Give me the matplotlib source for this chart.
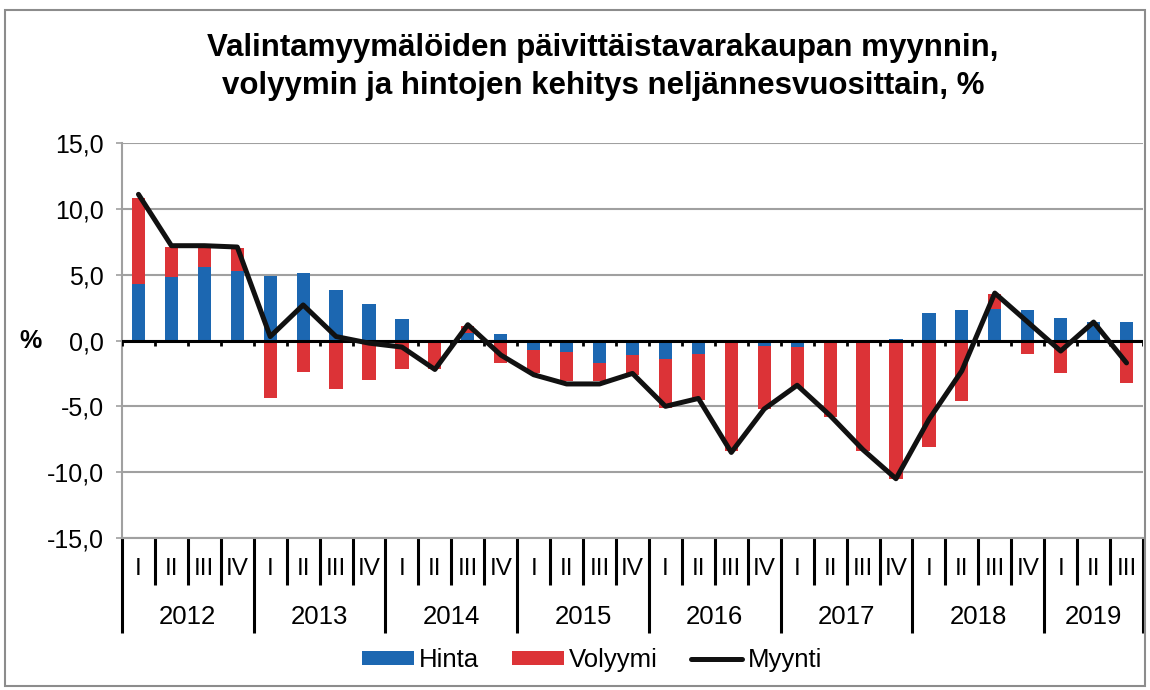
import numpy as np
from matplotlib import pyplot as plt
from matplotlib.patches import Rectangle

plt.rcParams['font.family'] = ['Liberation Sans', 'DejaVu Sans']

# quarterly data 2012 I - 2019 III, %
years = ['2012', '2013', '2014', '2015', '2016', '2017', '2018', '2019']
quarters = ['I', 'II', 'III', 'IV']
hinta = [4.3, 4.8, 5.6, 5.3, 4.9, 5.1, 3.8, 2.8, 1.6, 0.0, 0.6, 0.5,
         -0.7, -0.9, -1.7, -1.1, -1.4, -1.0, 0.0, -0.4, -0.5, -0.2, 0.0, 0.1,
         2.1, 2.3, 2.4, 2.3, 1.7, 1.4, 1.4]
volyymi = [6.5, 2.3, 1.4, 1.7, -4.4, -2.4, -3.7, -3.0, -2.2, -2.2, 0.5, -1.7,
           -1.8, -2.2, -1.4, -1.5, -3.7, -3.5, -8.4, -4.8, -3.1, -5.6, -8.4, -10.5,
           -8.1, -4.6, 1.1, -1.0, -2.5, -0.2, -3.2]
myynti = [11.1, 7.2, 7.2, 7.1, 0.3, 2.7, 0.3, -0.2, -0.5, -2.2, 1.2, -1.1,
          -2.6, -3.3, -3.3, -2.5, -5.0, -4.4, -8.5, -5.2, -3.4, -5.7, -8.3, -10.5,
          -6.0, -2.3, 3.6, 1.4, -0.8, 1.4, -1.7]
yticks = [-15, -10, -5, 0, 5, 10, 15]

blue = '#1c67b1'
red = '#dc3337'
grey = '#a0a0a0'

n = len(hinta)
x = np.arange(n)
h = np.array(hinta)
v = np.array(volyymi)
# excel style stacking: same sign goes on top of hinta, opposite sign starts from 0
vbottom = np.where(np.sign(h) == np.sign(v), h, 0.0)

W, H = 1150, 690
fig = plt.figure(figsize=(W / 100, H / 100), dpi=100)
L, R, T, B = 122, 1143, 143, 538
ax = fig.add_axes([L / W, 1 - B / H, (R - L) / W, (B - T) / H])
axh = B - T  # axes height in px

b1 = ax.bar(x, h, width=0.4, color=blue, zorder=2, label='Hinta')
b2 = ax.bar(x, v, width=0.4, bottom=vbottom, color=red, zorder=2, label='Volyymi')
ax.axhline(0, color='black', lw=2.2, zorder=3)
ax.vlines(np.arange(n + 1) - 0.5, -0.4, 0, color='black', lw=2, zorder=3)
ln, = ax.plot(x, myynti, color='#111111', lw=3.6, zorder=4, solid_joinstyle='round',
              solid_capstyle='round', label='Myynti')

ax.set_xlim(-0.5, n - 0.5)
ax.set_ylim(-15, 15)
ax.set_yticks(yticks)
ax.set_yticklabels([('%.1f' % t).replace('.', ',') for t in yticks])
ax.yaxis.grid(True, color=grey, lw=1.5)
ax.set_axisbelow(True)
ax.tick_params(axis='y', direction='out', length=4, width=1.2, color=grey,
               labelsize=18, pad=9)
ax.set_xticks([])
for s in ['top', 'right']:
    ax.spines[s].set_visible(False)
ax.spines['left'].set_color(grey)
ax.spines['left'].set_linewidth(1.5)
ax.spines['bottom'].set_color(grey)
ax.spines['bottom'].set_linewidth(1.5)

# category axis: quarters and years
trans = ax.get_xaxis_transform()
for b in np.arange(n + 1) - 0.5:
    yearline = (b + 0.5) % 4 == 0 or b == n - 0.5
    depth = 95 if yearline else 47
    ax.plot([b, b], [0, -depth / axh], transform=trans, color='black', lw=2.2,
            clip_on=False, solid_capstyle='butt')
for i in range(n):
    ax.text(i, -31 / axh, quarters[i % 4], transform=trans, ha='center', va='center',
            fontsize=17.5)
for k, yr in enumerate(years):
    q = x[4 * k:4 * k + 4]
    ax.text(q.mean(), -79 / axh, yr, transform=trans, ha='center', va='center',
            fontsize=18.5)

fig.text(30 / W, 1 - 341 / H, '%', ha='center', va='center', fontsize=18,
         fontweight='bold')

fig.text(603 / W, 1 - 67 / H,
         'Valintamyymälöiden päivittäistavarakaupan myynnin,\n'
         'volyymin ja hintojen kehitys neljännesvuosittain, %',
         ha='center', va='center', fontsize=22.5, fontweight='bold', linespacing=1.38)

fig.legend([b1, b2, ln], ['Hinta', 'Volyymi', 'Myynti'], loc='center',
           bbox_to_anchor=(592 / W, 1 - 660 / H), ncol=3, frameon=False,
           fontsize=18.5, handlelength=2.0, handleheight=0.5, handletextpad=0.2,
           columnspacing=1.3)

fig.patches.append(Rectangle((5 / W, 4 / H), 1140 / W, 676 / H, transform=fig.transFigure,
                             fill=False, edgecolor='#8c8c8c', lw=1.5))

plt.savefig('out.png', dpi=100)
